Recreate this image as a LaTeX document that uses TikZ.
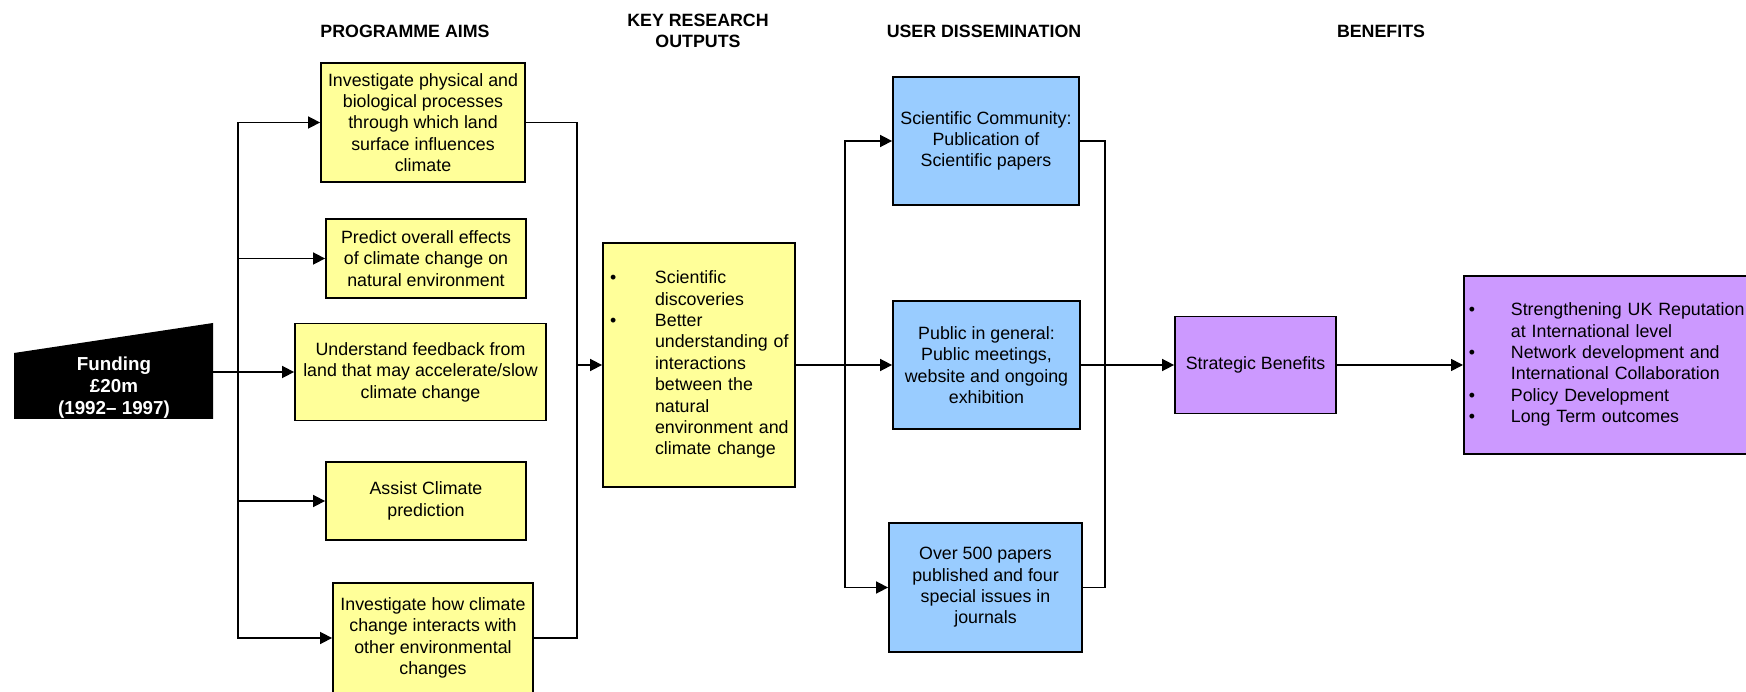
\documentclass[tikz,border=0pt]{standalone}
\usepackage{fontspec}
\setmainfont{Liberation Sans}
\usetikzlibrary{arrows.meta}
\definecolor{yel}{HTML}{FFFF99}
\definecolor{blu}{HTML}{99CCFF}
\definecolor{pur}{HTML}{CC99FF}
\newcommand{\bodyfont}{\fontsize{17.8}{21.4}\selectfont}
\begin{document}
\begin{tikzpicture}[x=1pt,y=-1pt,
  box/.style={draw=black, line width=1.8pt, inner sep=0pt, align=center, font=\bodyfont},
  ybox/.style={box, fill=yel},
  bbox/.style={box, fill=blu},
  pbox/.style={box, fill=pur},
  head/.style={font=\fontsize{17.8}{21}\selectfont\bfseries, align=center, inner sep=0pt},
  conn/.style={line width=1.6pt},
  arr/.style={conn, -{Triangle[length=12pt,width=12pt]}}]
\useasboundingbox (0,0) rectangle (1746,692);
\clip (0,0) rectangle (1746,692);

% headers
\node[head] (h1) at (405,31) {PROGRAMME AIMS};
\node[head] (h2) at (698,30.5) {KEY RESEARCH\\OUTPUTS};
\node[head] (h3) at (984,31) {USER DISSEMINATION};
\node[head] (h4) at (1381,31) {BENEFITS};

% funding
\fill[black] (14,353) -- (213,323) -- (213,419) -- (14,419) -- cycle;
\node[text=white, font=\fontsize{18.8}{22}\selectfont\bfseries, align=center, inner sep=0pt] (funding) at (114,388) {Funding\\£20m\\(1992– 1997)};
\coordinate (fundout) at (213,372);
\coordinate (spine) at (238,372);

% programme aims
\node[ybox, minimum width=204, minimum height=119] (a1) at (423,122.5) {Investigate physical and\\biological processes\\through which land\\surface influences\\climate};
\node[ybox, minimum width=200, minimum height=79] (a2) at (426,258.5) {Predict overall effects\\of climate change on\\natural environment};
\node[ybox, minimum width=251, minimum height=97] (a3) at (420.5,372) {Understand feedback from\\land that may accelerate/slow\\climate change};
\node[ybox, minimum width=200, minimum height=78] (a4) at (426,501) {Assist Climate\\prediction};
\node[ybox, minimum width=200, minimum height=110] (a5) at (433,638) {Investigate how climate\\change interacts with\\other environmental\\changes};

% key research outputs
\node[ybox, minimum width=192, minimum height=244, text width=192pt, align=left] (ko) at (699,365) {%
\begin{tabular}{@{\hspace{7pt}}p{45pt}@{}l@{}}
\textbullet & Scientific\\
 & discoveries\\
\textbullet & Better\\
 & understanding of\\
 & interactions\\
 & between the\\
 & natural\\
 & environment and\\
 & climate change
\end{tabular}};

% user dissemination
\node[bbox, minimum width=186, minimum height=128] (b1) at (986,141) {Scientific Community:\\Publication of\\Scientific papers};
\node[bbox, minimum width=187, minimum height=128] (b2) at (986.5,365) {Public in general:\\Public meetings,\\website and ongoing\\exhibition};
\node[bbox, minimum width=193, minimum height=129] (b3) at (985.5,587.5) {Over 500 papers\\published and four\\special issues in\\journals};

% benefits
\node[pbox, minimum width=161, minimum height=97] (sb) at (1255.5,365) {Strategic Benefits};
\node[pbox, anchor=west, minimum width=307, minimum height=178, text width=307pt, align=left] (fin) at (1463,365) {%
\begin{tabular}{@{\hspace{5pt}}p{42pt}@{}l@{}}
\textbullet & Strengthening UK Reputation\\
 & at International level\\
\textbullet & Network development and\\
 & International Collaboration\\
\textbullet & Policy Development\\
\textbullet & Long Term outcomes
\end{tabular}};

% connectors
\draw[conn] (fundout) -- (spine);
\draw[arr] (spine) |- (a1.west);
\draw[arr] (spine) |- (a2.west);
\draw[arr] (spine) -- (a3.west);
\draw[arr] (spine) |- (a4.west);
\draw[arr] (spine) |- (a5.west);

\coordinate (rsp) at (577,365);
\draw[conn] (a1.east) -| (rsp);
\draw[conn] (a5.east) -| (rsp);
\draw[arr] (rsp) -- (ko.west);

\coordinate (dsp) at (845,365);
\draw[conn] (ko.east) -- (dsp);
\draw[arr] (dsp) |- (b1.west);
\draw[arr] (dsp) -- (b2.west);
\draw[arr] (dsp) |- (b3.west);

\coordinate (usp) at (1105,365);
\draw[conn] (b1.east) -| (usp);
\draw[conn] (b3.east) -| (usp);
\draw[arr] (b2.east) -- (sb.west);
\draw[arr] (sb.east) -- (fin.west);
\end{tikzpicture}
\end{document}
